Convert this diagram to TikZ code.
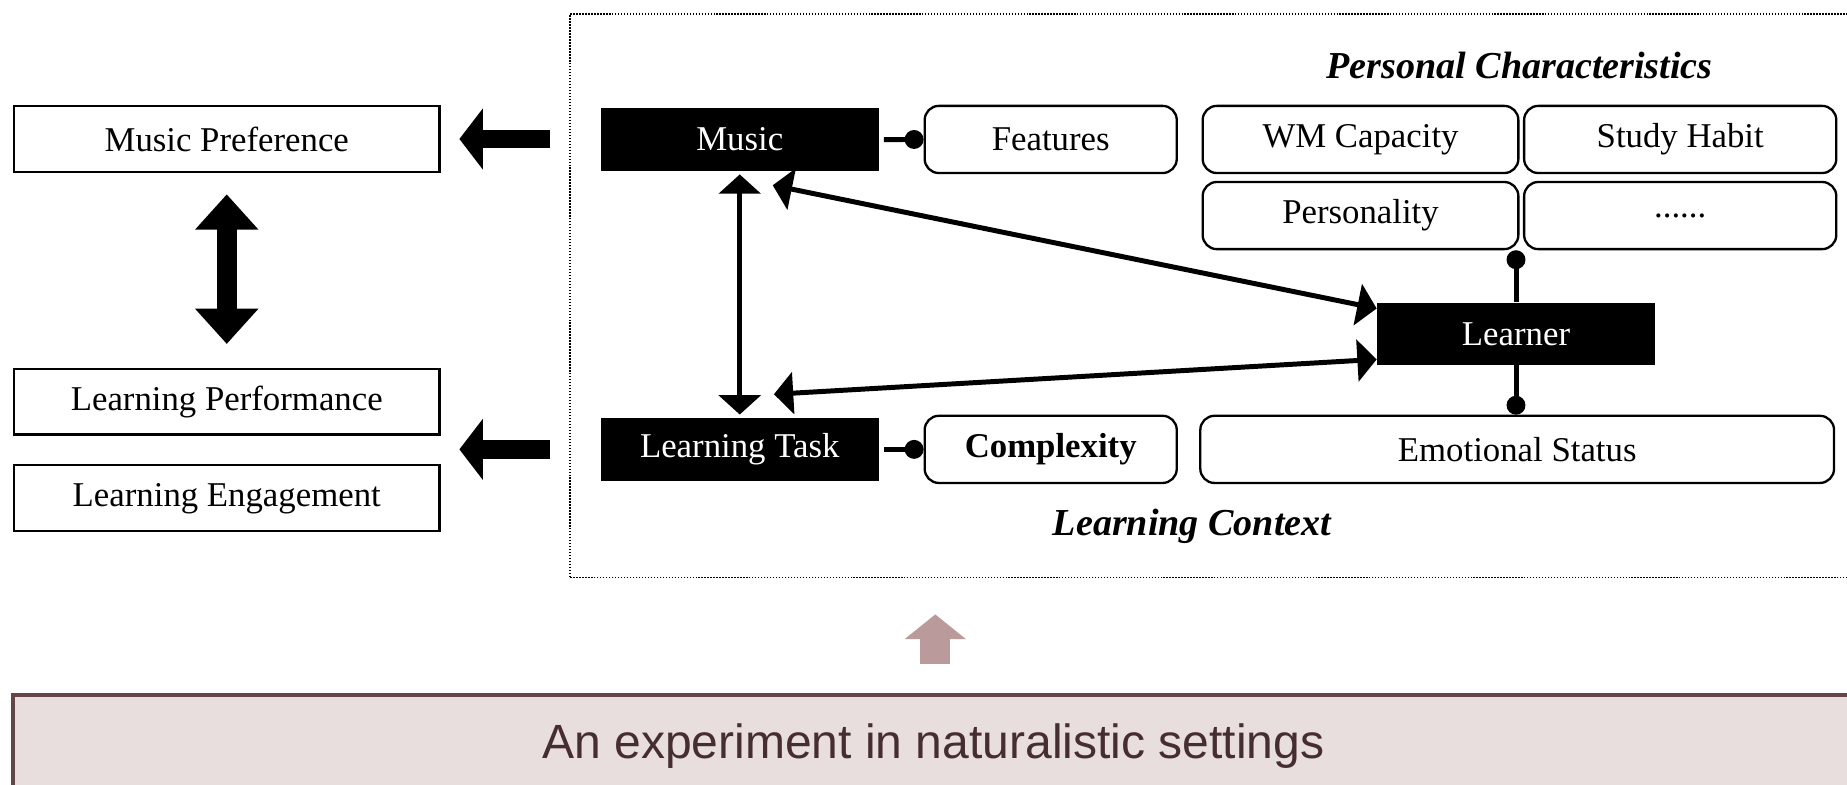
\documentclass[tikz,border=0pt]{standalone}
\usepackage{fontspec}
\setmainfont{Liberation Serif}
\setsansfont{Liberation Sans}
\usepackage{xcolor}
\usetikzlibrary{arrows.meta,positioning,calc}
\definecolor{basefill}{RGB}{232,222,222}
\definecolor{baseline}{RGB}{100,70,72}
\definecolor{basetext}{RGB}{70,45,48}
\definecolor{uppink}{RGB}{186,154,154}

\begin{document}
\begin{tikzpicture}[
    outcome/.style={rectangle, draw, line width=1.4pt, minimum width=9.025cm, minimum height=1.4cm, font=\fontsize{21}{25}\selectfont},
    factor/.style={rectangle, fill=black, text=white, minimum width=5.9cm, minimum height=1.325cm, font=\fontsize{21}{25}\selectfont},
    attr/.style={rectangle, draw, rounded corners=0.3cm, line width=1.4pt, minimum height=1.425cm, font=\fontsize{21}{25}\selectfont},
    heading/.style={font=\bfseries\itshape\fontsize{23}{28}\selectfont},
    fatarrow/.style={line width=0.4cm, -{Triangle[length=0.5cm, width=1.275cm]}},
    fatboth/.style={line width=0.42cm, {Triangle[length=0.75cm, width=1.3cm]}-{Triangle[length=0.75cm, width=1.3cm]}},
    link/.style={line width=3pt, {Triangle[length=0.41cm, width=0.88cm]}-{Triangle[length=0.41cm, width=0.88cm]}},
    dotlink/.style={line width=3pt, -{Circle[length=0.4cm]}},
    basebox/.style={rectangle, draw=baseline, fill=basefill, line width=2pt, minimum width=39.45cm, minimum height=2.4cm},
    upfat/.style={uppink, line width=0.64cm, -{Triangle[length=0.525cm, width=1.275cm]}}
]
    \useasboundingbox (0,0) rectangle (39.2,16.65);

    % Left side: outcomes
    \node[outcome] (mpref) at (4.8125,13.7) {Music Preference};
    \node[outcome] (lperf) at (4.8125,8.125) {Learning Performance};
    \node[outcome] (leng) at (4.8125,6.075) {Learning Engagement};
    \draw[fatboth] ($(mpref.south)+(0,-0.45)$) -- ($(lperf.north)+(0,0.5)$);

    % Learning context frame
    \coordinate (ctxsw) at (12.1,4.4);
    \draw[densely dotted, line width=0.8pt] (ctxsw) rectangle (39.8,16.35);
    \node[heading] (pchar) at (32.25,15.25) {Personal Characteristics};
    \node[heading] (lctx) at (25.3,5.475) {Learning Context};

    % Factors and their attributes
    \node[factor] (music) at (15.7,13.6875) {Music};
    \node[factor] (task) at (15.7,7.1125) {Learning Task};
    \node[factor] (learner) at (32.175,9.5625) {Learner};
    \node[attr, minimum width=5.35cm] (features) at (22.3,13.69) {Features};
    \node[attr, minimum width=5.35cm, font=\bfseries\fontsize{21}{25}\selectfont] (complexity) at (22.3,7.1125) {Complexity};
    \node[attr, minimum width=6.7cm] (wm) at (28.875,13.69) {WM Capacity};
    \node[attr, minimum width=6.625cm] (habit) at (35.66,13.69) {Study Habit};
    \node[attr, minimum width=6.7cm] (personality) at (28.875,12.075) {Personality};
    \node[attr, minimum width=6.625cm] (more) at (35.66,12.075) {......};
    \node[attr, minimum width=13.45cm] (emotion) at (32.2,7.1125) {Emotional Status};

    % Relations inside the context
    \draw[link] ($(music.south)+(0,-0.07)$) -- ($(task.north)+(0,0.07)$);
    \draw[link] ($(music.south)+(0.7,-0.3)$) -- ($(learner.west)+(0,0.54)$);
    \draw[link] ($(task.north)+(0.725,0.5)$) -- ($(learner.west)+(0,-0.54)$);
    \draw[dotlink, shorten <=0.1cm] (music.east) -- (features.west);
    \draw[dotlink, shorten <=0.1cm] (task.east) -- (complexity.west);
    \draw[dotlink] (learner.north) -- (learner.north |- personality.south);
    \draw[dotlink] (learner.south) -- (learner.south |- emotion.north);

    % Context feeds the outcomes
    \draw[fatarrow] ([xshift=-0.425cm]ctxsw |- mpref) -- ([xshift=0.4cm]mpref.east);
    \draw[fatarrow] ([xshift=-0.425cm]ctxsw |- task) -- ([xshift=0.4cm]mpref.east |- task);

    % Experimental setting
    \node[basebox] (setting) at (20.0,0.7) {};
    \node[font=\sffamily\fontsize{29}{34}\selectfont, text=basetext, anchor=base] (settingtxt) at (19.81,0.55) {An experiment in naturalistic settings};
    \draw[upfat] ($(setting.north)+(-0.15,0.625)$) -- ($(setting.north)+(-0.15,1.675)$);
\end{tikzpicture}
\end{document}
